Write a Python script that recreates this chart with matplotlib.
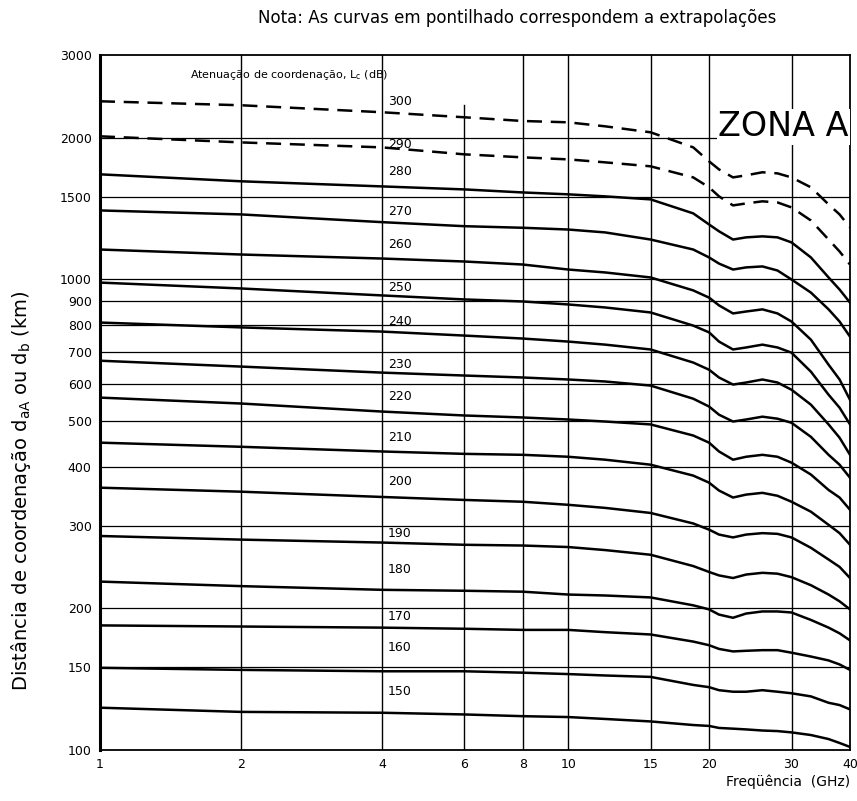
import numpy as np
import matplotlib.pyplot as plt

# --------------------
# data
# --------------------
freq = [1, 2, 4, 6, 8, 10, 12, 15, 18.5, 20, 21, 22.5, 24, 26, 28, 30, 33, 36, 38, 40]

d300 = [2392, 2346, 2267, 2212, 2172, 2158, 2116, 2055, 1909, 1783, 1714, 1648, 1665, 1690, 1681, 1648, 1570, 1444, 1375, 1290]
d290 = [2015, 1956, 1909, 1845, 1818, 1800, 1774, 1740, 1648, 1570, 1502, 1437, 1451, 1466, 1458, 1423, 1335, 1216, 1147, 1076]
d280 = [1673, 1617, 1577, 1554, 1531, 1517, 1502, 1480, 1382, 1309, 1266, 1216, 1229, 1235, 1229, 1199, 1114, 1010, 952, 893]
d270 = [1402, 1375, 1324, 1298, 1288, 1277, 1259, 1216, 1158, 1114, 1081, 1050, 1061, 1066, 1045, 1000, 938, 864, 814, 756]
d260 = [1158, 1130, 1108, 1092, 1076, 1050, 1035, 1010, 948, 915, 881, 847, 855, 864, 847, 814, 745, 659, 613, 555]
d250 = [985, 957, 925, 907, 898, 885, 872, 851, 798, 772, 738, 710, 717, 727, 717, 699, 637, 569, 534, 492]
d240 = [810, 791, 775, 760, 749, 738, 727, 710, 666, 643, 619, 598, 604, 613, 604, 583, 542, 492, 461, 424]
d230 = [672, 653, 634, 625, 619, 613, 607, 595, 558, 537, 516, 499, 504, 511, 506, 496, 463, 424, 404, 379]
d220 = [561, 545, 524, 514, 509, 504, 499, 492, 466, 450, 431, 414, 420, 424, 420, 408, 385, 357, 344, 324]
d210 = [450, 441, 431, 426, 424, 420, 414, 404, 383, 370, 356, 344, 349, 352, 347, 337, 321, 301, 289, 273]
d200 = [361, 354, 345, 340, 337, 332, 327, 319, 303, 294, 287, 283, 287, 289, 288, 283, 269, 254, 245, 232]
d190 = [285, 280, 276, 273, 272, 270, 266, 260, 246, 239, 235, 232, 236, 238, 237, 233, 224, 214, 207, 199]
d180 = [228, 223, 219, 218, 217, 214, 213, 211, 203, 199, 194, 191, 195, 197, 197, 196, 189, 182, 177, 171]
d170 = [184, 183, 182, 181, 180, 180, 178, 176, 170, 167, 164, 162, 162.5, 163, 163, 161, 158, 155, 152, 148]
d160 = [149.5, 148, 147, 147, 146, 145, 144, 143, 137.5, 136, 134, 133, 133, 134, 133, 132, 130, 126, 124.6, 122]
d150 = [123, 120.5, 120, 119, 118, 117.5, 116.4, 115, 113, 112.5, 111.4, 111, 110.6, 110, 109.7, 109, 107.6, 105.5, 103.5, 101.5]

curves = [d300, d290, d280, d270, d260, d250, d240, d230,
          d220, d210, d200, d190, d180, d170, d160, d150]
lc = [300, 290, 280, 270, 260, 250, 240, 230, 220, 210, 200, 190, 180, 170, 160, 150]
extrap = [300, 290]

# label positions (km), placed just right of the 4 GHz line
lab_d = [2392, 1938, 1698, 1395, 1187, 962, 814, 659, 564, 461, 372, 289, 242, 192, 165, 133]
lab_f = 4.12

xticks = [1, 2, 4, 6, 8, 10, 15, 20, 30, 40]
yticks = [100, 150, 200, 300, 400, 500, 600, 700, 800, 900, 1000, 1500, 2000, 3000]

# --------------------
# draw
# --------------------
fig = plt.figure(figsize=(8.57, 8.01), dpi=100)
ax = fig.add_axes([100/857, 1-750/801, 750/857, 695/801])
ax.set_xscale('log')
ax.set_yscale('log')
ax.set_xlim(1, 40)
ax.set_ylim(100, 3000)

# grid
for f in xticks[1:-1]:
    top = 0.928 if f == 6 else 1.0
    ax.axvline(f, ymax=top, color='black', lw=1.0, zorder=1)
for d in yticks[1:-1]:
    ax.axhline(d, color='black', lw=0.9, zorder=1)

for v, d in zip(lc, curves):
    ls = (0, (6, 3.5)) if v in extrap else '-'
    ax.plot(freq, d, color='black', lw=1.8, ls=ls, zorder=3,
            solid_joinstyle='round')

for v, d in zip(lc, lab_d):
    ax.text(lab_f, d, str(v), fontsize=9, ha='left', va='center', zorder=4)

ax.text(1.56, 2720, 'Atenuação de coordenação, L$_\\mathregular{c}$ (dB)',
        fontsize=8, ha='left', va='center')
ax.text(39.7, 2110, 'ZONA A', fontsize=24, ha='right', va='center',
        bbox=dict(facecolor='white', edgecolor='none', pad=1), zorder=5)

ax.set_xticks(xticks)
ax.set_xticklabels([str(t) for t in xticks])
ax.set_yticks(yticks)
ax.set_yticklabels([str(t) for t in yticks])
ax.minorticks_off()
ax.tick_params(length=0, labelsize=9, pad=6)

for s in ax.spines.values():
    s.set_linewidth(1.3)
ax.spines['left'].set_linewidth(2.2)

fig.text(0.604, 0.978, 'Nota: As curvas em pontilhado correspondem a extrapolações',
         fontsize=12, ha='center', va='center')
fig.text(0.992, 0.015, 'Freqüência  (GHz)', fontsize=10, ha='right', va='bottom')
fig.text(0.025, 0.388, 'Distância de coordenação d$_\\mathregular{aA}$ ou d$_\\mathregular{b}$ (km)',
         fontsize=14, rotation=90, ha='center', va='center')

fig.savefig('out.png', dpi=100)
